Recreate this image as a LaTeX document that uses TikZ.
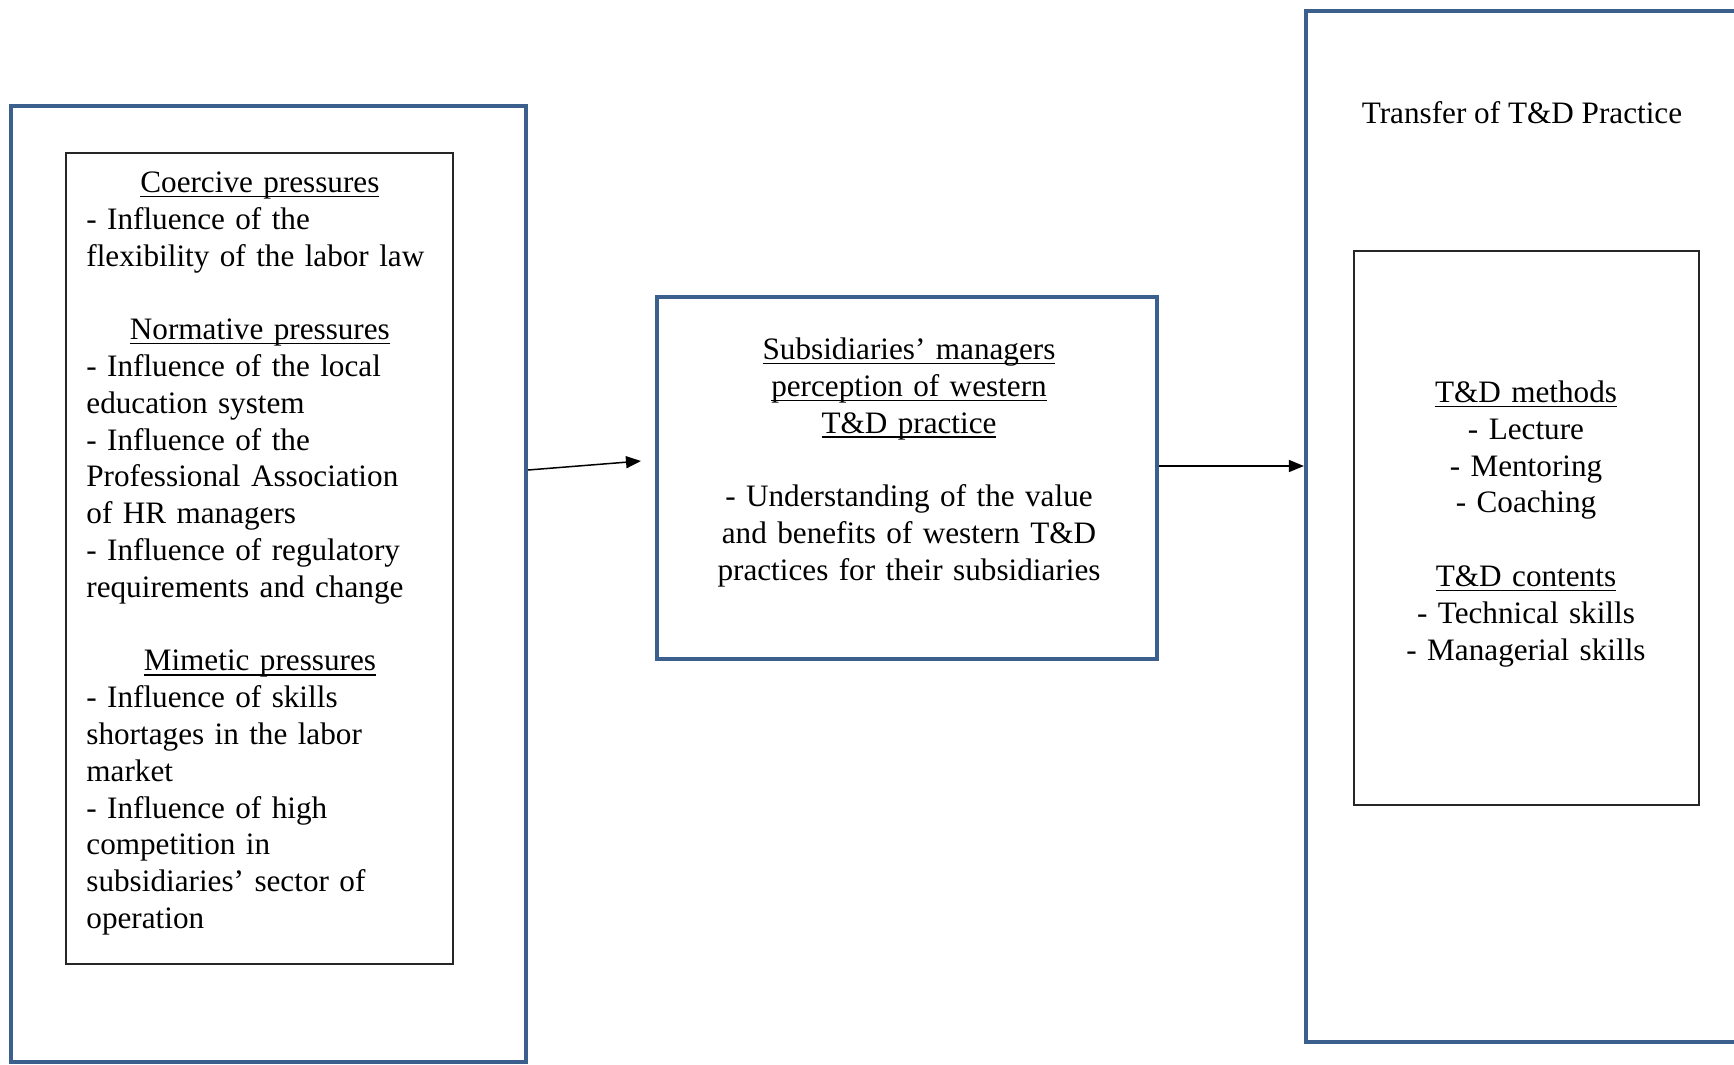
\documentclass[tikz,border=0pt]{standalone}
\usepackage{fontspec}
\setmainfont{Liberation Serif}
\usetikzlibrary{fit,arrows.meta}
\definecolor{boxblue}{RGB}{60,96,142}
\newsavebox{\undlbox}
\newcommand{\undl}[1]{\leavevmode\sbox{\undlbox}{#1}\rlap{\rule[-2.3pt]{\wd\undlbox}{0.7pt}}\usebox{\undlbox}}
\begin{document}
\begin{tikzpicture}[x=0.5pt,y=-0.5pt,
  bluebox/.style={draw=boxblue,line width=2.1pt,inner sep=0pt},
  thinbox/.style={draw=black!85,line width=0.7pt,inner sep=0pt},
  txt/.style={font=\fontsize{15.6}{18.4}\selectfont,inner sep=0pt},
  arr/.style={draw=black,line width=0.75pt,-{Triangle[length=7.5pt,width=6pt]}}]
\useasboundingbox (0,0) rectangle (1734,1065);
\clip (0,0) rectangle (1734,1065);
% boxes
\node[bluebox,fit={(11,106)(526,1062)}] (L) {};
\node[thinbox,fit={(66,153)(453,964)}] (Li) {};
\node[bluebox,fit={(657,297)(1157,659)}] (M) {};
\node[bluebox,fit={(1306,11)(1780,1042)}] (R) {};
\node[thinbox,fit={(1354,251)(1699,805)}] (Ri) {};
% left text
\node[txt,anchor=base west,text width=173.5pt,align=left] (ltext) at (86,192.5) {%
{\centering\undl{Coercive pressures}\par}
- Influence of the\\
flexibility of the labor law\par
\mbox{}\par
{\centering\undl{Normative pressures}\par}
- Influence of the local\\
education system\\
- Influence of the\\
Professional Association\\
of HR managers\\
- Influence of regulatory\\
requirements and change\par
\mbox{}\par
{\centering\undl{Mimetic pressures}\par}
- Influence of skills\\
shortages in the labor\\
market\\
- Influence of high\\
competition in\\
subsidiaries’ sector of\\
operation};
% middle text
\node[txt,anchor=base,text width=240pt,align=center] (mtext) at (909,359.5) {%
\undl{Subsidiaries’ managers}\\
\undl{perception of western}\\
\undl{T\&D practice}\\[18.4pt]
- Understanding of the value\\
and benefits of western T\&D\\
practices for their subsidiaries};
% right text
\node[txt,anchor=base] (rtitle) at (1522,123.5) {Transfer of T\&D Practice};
\node[txt,anchor=base,text width=165pt,align=center] (rtext) at (1526,402.5) {%
\undl{T\&D methods}\\
- Lecture\\
- Mentoring\\
- Coaching\\[18.4pt]
\undl{T\&D contents}\\
- Technical skills\\
- Managerial skills};
% connectors
\coordinate (a1s) at (L.east |- 0,470);
\coordinate (a1e) at (641,461);
\coordinate (a2s) at (M.east |- 0,466);
\coordinate (a2e) at (R.west |- 0,466);
\draw[arr] (a1s) -- (a1e);
\draw[arr] (a2s) -- (a2e);
\end{tikzpicture}
\end{document}
